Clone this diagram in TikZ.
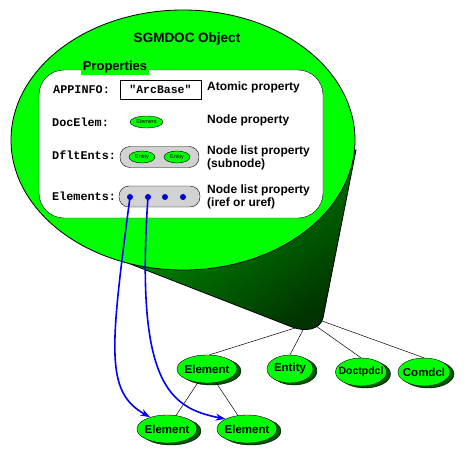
\documentclass[tikz,border=0pt]{standalone}
\usepackage{fontspec}
\setmainfont{Liberation Sans}
\setmonofont{Liberation Mono}
\usepackage{tikz}
\usetikzlibrary{shapes.geometric, arrows.meta, positioning, shadows}
\definecolor{objgreen}{RGB}{0,255,0}
\definecolor{refblue}{RGB}{0,0,255}
\definecolor{dotblue}{RGB}{0,0,210}
\newcommand{\nm}[1]{\makebox[0pt]{#1}}

\begin{document}
\begin{tikzpicture}[
    x=1pt, y=-1pt,
    objnode/.style={ellipse, draw=black, fill=objgreen, minimum width=60pt, minimum height=28pt, inner sep=0pt, font=\bfseries\fontsize{11.5}{12}\selectfont,
        drop shadow={shadow xshift=4pt, shadow yshift=-2pt, fill=green!35!black, draw=black, opacity=1}},
    tinynode/.style={ellipse, draw=black, fill=objgreen, minimum width=26pt, minimum height=12pt, inner sep=0pt, font=\fontsize{5.5}{6}\selectfont},
    proplabel/.style={anchor=west, inner sep=0pt, font=\ttfamily\bfseries\fontsize{11.8}{12}\selectfont},
    propnote/.style={anchor=west, inner sep=0pt, align=left, font=\bfseries\fontsize{12}{13.5}\selectfont},
    listbox/.style={rectangle, rounded corners=10pt, draw=black, fill=gray!35, minimum width=79pt, minimum height=21pt},
    refdot/.style={circle, fill=dotblue, inner sep=0pt, minimum size=6pt},
    ref/.style={-{Stealth[length=10pt, width=7pt]}, draw=refblue, line width=1.6pt},
    link/.style={draw=black, line width=0.5pt}
]
\useasboundingbox (0,0) rectangle (469,476);

% cone under the object
\shade[draw=black, thick, top color=green!65!black, bottom color=green!20!black, shading angle=35]
    (115,258) -- (292,327) .. controls (305,332) and (320,330) .. (323,318) -- (356,150) -- cycle;
\coordinate (t1) at (295,328);
\coordinate (t2) at (303,330);
\coordinate (t3) at (316,326);
\coordinate (t4) at (322,321);

\node[ellipse, draw=black, thick, fill=objgreen, minimum width=344pt, minimum height=260pt] (obj) at (183,140) {};
\node[font=\bfseries\fontsize{13.5}{14}\selectfont] (title) at (187,39) {SGMDOC Object};

\node[draw=black, fill=white, rounded corners=25pt, minimum width=284pt, minimum height=148pt] (props) at (181,144) {};
\node[fill=objgreen, inner sep=2pt, font=\bfseries\fontsize{13}{14}\selectfont] (proptitle) at (115,67) {Properties};

% rows
\node[proplabel] (appinfo) at (53,90) {APPINFO:};
\node[draw=black, minimum width=81pt, minimum height=19pt, inner sep=0pt, font=\ttfamily\bfseries\fontsize{11.5}{12}\selectfont] (arcbase) at (160.5,89.5) {"ArcBase"};
\node[propnote] (atomic) at (207,87) {Atomic property};

\node[proplabel] (docelem) at (52,122) {DocElem:};
\node[tinynode, minimum width=33pt] (small) at (146.5,122) {\nm{Element}};
\node[propnote] (nodeprop) at (207,120) {Node property};

\node[proplabel] (dfltents) at (52,155) {DfltEnts:};
\node[listbox] (entbox) at (159.5,157) {};
\node[tinynode] (ent1) at (142,157) {\nm{Entity}};
\node[tinynode] (ent2) at (177,157) {\nm{Entity}};
\node[propnote] (subnode) at (207,158) {Node list property\\(subnode)};

\node[proplabel] (elements) at (52,196) {Elements:};
\node[listbox, minimum width=81pt] (elbox) at (159.5,196.5) {};
\node[refdot] (d1) at (130,197) {};
\node[refdot] (d2) at (148,197) {};
\node[refdot] (d3) at (165,197) {};
\node[refdot] (d4) at (183,197) {};
\node[propnote] (iref) at (207,197) {Node list property\\(iref or uref)};

% referenced nodes
\node[objnode] (el0) at (207,369) {\nm{Element}};
\node[objnode, minimum width=46pt] (ent) at (290,369) {\nm{Entity}};
\node[objnode, minimum width=51pt] (doc) at (361,372) {\nm{\fontsize{10.5}{11}\selectfont Doctpdcl}};
\node[objnode, minimum width=52pt] (com) at (424,372) {\nm{Comdcl}};
\node[objnode] (el1) at (167,429) {\nm{Element}};
\node[objnode] (el2) at (247,429) {\nm{Element}};

\draw[link] (t1) -- (el0.80);
\draw[link] (t2) -- (ent.north);
\draw[link] (t3) -- (doc.north);
\draw[link] (t4) -- (com.north);
\draw[link] (el0) -- (el1);
\draw[link] (el0) -- (el2);

\draw[ref] (d1.center) .. controls (110,350) and (105,392) .. (el1.145);
\draw[ref] (d2.center) .. controls (135,385) and (170,408) .. (el2.155);

\end{tikzpicture}
\end{document}
